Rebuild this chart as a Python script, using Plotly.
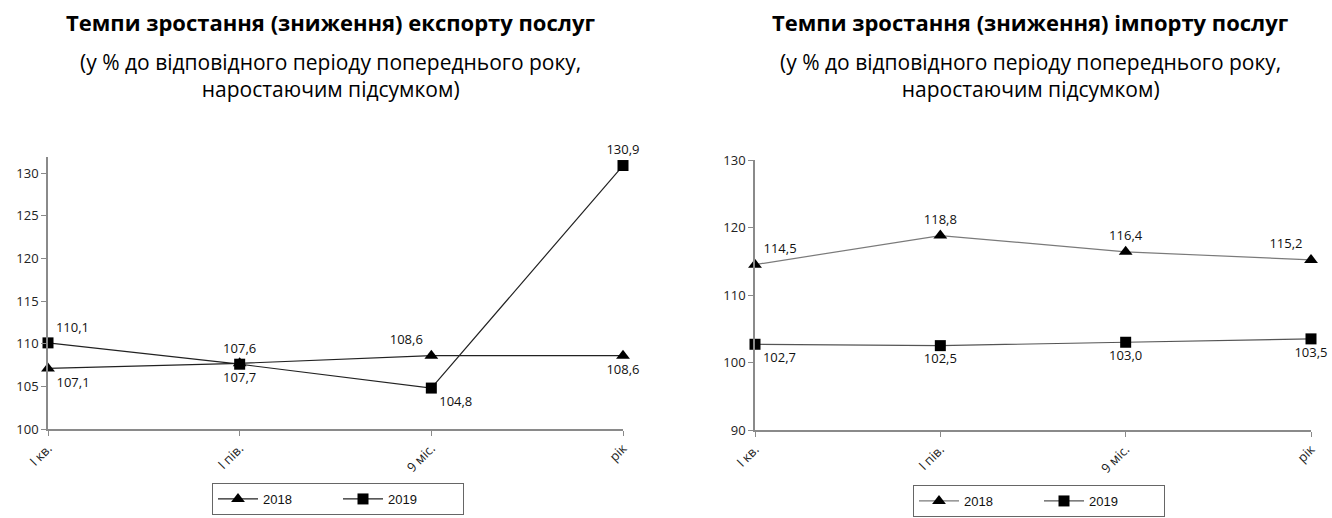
import plotly.graph_objects as go

periods = ["I кв.", "I пів.", "9 міс.", "рік"]

export_2018 = [107.1, 107.7, 108.6, 108.6]
export_2019 = [110.1, 107.6, 104.8, 130.9]
import_2018 = [114.5, 118.8, 116.4, 115.2]
import_2019 = [102.7, 102.5, 103.0, 103.5]

export_2018_pos = ["bottom right", "bottom center", "top left", "bottom center"]
export_2019_pos = ["top right", "top center", "bottom right", "top center"]
import_2018_pos = ["top right", "top center", "top center", "top left"]
import_2019_pos = ["bottom right", "bottom center", "bottom center", "bottom center"]

titles = [
    "Темпи зростання (зниження) експорту послуг",
    "Темпи зростання (зниження) імпорту послуг",
]
subtitle = "(у % до відповідного періоду попереднього року,<br>наростаючим підсумком)"

FONT = "Open Sans"
W, H = 1332, 518


def fmt(vals):
    return [f"{v:.1f}".replace(".", ",") for v in vals]


fig = go.Figure()


def add_series(vals, pos, name, symbol, size, xa, ya, legend, line_color):
    fig.add_trace(go.Scatter(
        x=list(range(len(periods))), y=vals, name=name,
        mode="lines+markers+text",
        text=fmt(vals), textposition=pos,
        textfont=dict(family=FONT, size=13, color="#111"),
        line=dict(color=line_color, width=1.2),
        marker=dict(symbol=symbol, size=size, color="black"),
        xaxis=xa, yaxis=ya, legend=legend, cliponaxis=False,
    ))


add_series(export_2018, export_2018_pos, "2018", "triangle-up", 12, "x", "y", "legend", "#222")
add_series(export_2019, export_2019_pos, "2019", "square", 11, "x", "y", "legend", "#222")
add_series(import_2018, import_2018_pos, "2018", "triangle-up", 12, "x2", "y2", "legend2", "#7a7a7a")
add_series(import_2019, import_2019_pos, "2019", "square", 11, "x2", "y2", "legend2", "#555")

axis_common = dict(
    showgrid=False, zeroline=False, showline=True, linecolor="#8a8a8a", linewidth=1.5,
    ticks="outside", tickcolor="#8a8a8a", ticklen=5,
    tickfont=dict(family=FONT, size=13, color="#222"),
)

xaxis_common = dict(
    axis_common, tickmode="array", tickvals=list(range(len(periods))),
    ticktext=periods, tickangle=-45, range=[0, 3],
    tickfont=dict(family=FONT, size=13, color="#222"),
)

legend_common = dict(
    orientation="h", xanchor="center", yanchor="top",
    bordercolor="#666", borderwidth=1,
    font=dict(family="Liberation Sans", size=13, color="#111"),
    entrywidth=70, itemwidth=40,
)

fig.update_layout(
    width=W, height=H,
    margin=dict(l=0, r=0, t=0, b=0, autoexpand=False),
    plot_bgcolor="white", paper_bgcolor="white",
    xaxis=dict(xaxis_common, domain=[48 / W, 623 / W], anchor="y"),
    yaxis=dict(axis_common, domain=[1 - 429 / H, 1 - 157 / H], range=[100, 131.9],
               tickvals=[100, 105, 110, 115, 120, 125, 130], anchor="x"),
    xaxis2=dict(xaxis_common, domain=[755 / W, 1311 / W], anchor="y2"),
    yaxis2=dict(axis_common, domain=[1 - 430 / H, 1 - 160 / H], range=[90, 130],
                tickvals=[90, 100, 110, 120, 130], anchor="x2"),
    legend=dict(legend_common, x=338 / W, y=1 - 483 / H),
    legend2=dict(legend_common, x=1039 / W, y=1 - 485 / H),
)

for cx, title in zip([330, 1030], titles):
    fig.add_annotation(x=cx / W, y=1 - 22 / H, xref="paper", yref="paper",
                       xanchor="center", yanchor="middle",
                       text=f"<b>{title}</b>", showarrow=False,
                       font=dict(family=FONT, size=22, color="black"))
    fig.add_annotation(x=cx / W, y=1 - 75 / H, xref="paper", yref="paper",
                       xanchor="center", yanchor="middle",
                       text=subtitle, showarrow=False,
                       font=dict(family=FONT, size=21, color="black"))

fig.write_html("out.html")
